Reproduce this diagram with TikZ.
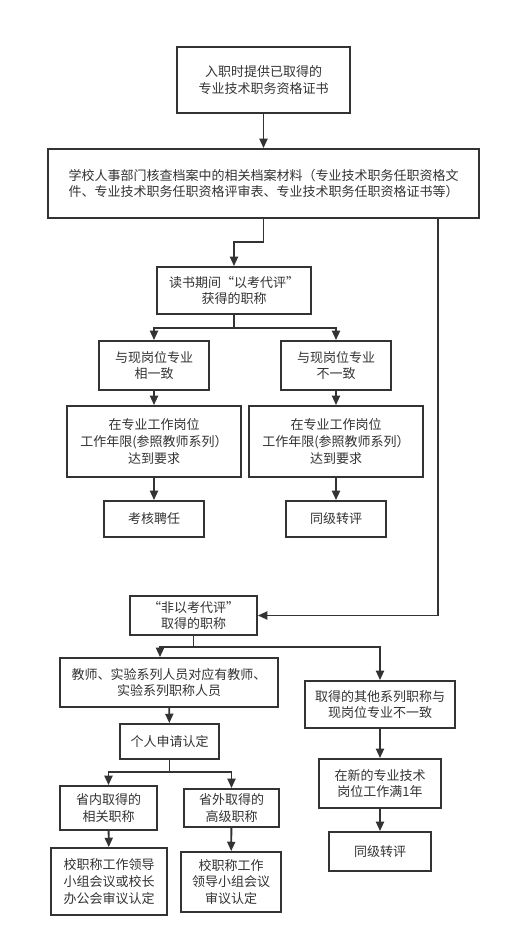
\documentclass[tikz,border=0pt]{standalone}
\usepackage{fontspec}
\newfontfamily\cjk{Noto Sans CJK SC}
\usetikzlibrary{arrows.meta}
\definecolor{ink}{HTML}{333333}
\begin{document}
\begin{tikzpicture}[x=0.75pt,y=-0.75pt,
  bx/.style 2 args={draw=ink,line width=1.4pt,fill=white,text=ink,inner sep=0pt,align=center,
    minimum width=#1*0.75pt,minimum height=#2*0.75pt,font=\cjk\fontsize{9.75}{12.6}\selectfont},
  ln/.style={draw=ink,line width=1.4pt},
  arr/.style={ln,-{Triangle[width=6pt,length=7pt]}}]
\useasboundingbox (0,0) rectangle (507,929);
\node[bx={173}{66}] (b1) at (263.5,80) {入职时提供已取得的\\专业技术职务资格证书};
\node[bx={431}{69}] (b2) at (263.5,183.5) {学校人事部门核查档案中的相关档案材料（专业技术职务任职资格文\\件、专业技术职务任职资格评审表、专业技术职务任职资格证书等）};
\node[bx={154}{47}] (b3) at (234,290.5) {读书期间“以考代评”\\获得的职称};
\node[bx={110}{49}] (b4l) at (154,365.5) {与现岗位专业\\相一致};
\node[bx={110}{49}] (b4r) at (336,365.5) {与现岗位专业\\不一致};
\node[bx={174}{71}] (b5l) at (154,441.5) {在专业工作岗位\\工作年限(参照教师系列）\\达到要求};
\node[bx={174}{71}] (b5r) at (336,441.5) {在专业工作岗位\\工作年限(参照教师系列）\\达到要求};
\node[bx={100}{36}] (b6l) at (154,519) {考核聘任};
\node[bx={100}{36}] (b6r) at (336,519) {同级转评};
\node[bx={127}{39}] (b7) at (193.5,615.5) {“非以考代评”\\取得的职称};
\node[bx={218}{49}] (b8) at (169,682.5) {教师、实验系列人员对应有教师、\\实验系列职称人员};
\node[bx={150}{47}] (b11) at (380,704.5) {取得的其他系列职称与\\现岗位专业不一致};
\node[bx={99}{35}] (b9) at (169.5,741.5) {个人申请认定};
\node[bx={97}{44}] (b10l) at (108.5,808) {省内取得的\\相关职称};
\node[bx={95}{38}] (b10r) at (231.5,808) {省外取得的\\高级职称};
\node[bx={116}{67}] (b12l) at (109,881.5) {校职称工作领导\\小组会议或校长\\办公会审议认定};
\node[bx={100}{60}] (b12r) at (231,882) {校职称工作\\领导小组会议\\审议认定};
\node[bx={122}{49}] (b13) at (380,783.5) {在新的专业技术\\岗位工作满1年};
\node[bx={102}{39}] (b14) at (380,851.5) {同级转评};
\coordinate (j1) at (234,242);
\coordinate (r1) at (438,0);
\coordinate (j2) at (234,328);
\coordinate (j3) at (193.5,647);
\coordinate (j4) at (169.5,772);
\draw[arr] (b1) -- (b2);
\draw[arr] (b2.south) |- (j1) -- (b3.north);
\draw[arr] (b2.south -| r1) |- (b7.east);
\draw[ln] (b3.south) -- (j2);
\draw[arr] (j2) -| (b4l.north);
\draw[arr] (j2) -| (b4r.north);
\draw[arr] (b4l) -- (b5l);
\draw[arr] (b4r) -- (b5r);
\draw[arr] (b5l) -- (b6l);
\draw[arr] (b5r) -- (b6r);
\draw[ln] (b7.south) -- (j3);
\draw[arr] (j3) -| ([xshift=-6.75pt]b8.north);
\draw[arr] (j3) -| (b11.north);
\draw[arr] (b8) -- (b9);
\draw[ln] (b9.south) -- (j4);
\draw[arr] (j4) -| (b10l.north);
\draw[arr] (j4) -| (b10r.north);
\draw[arr] (b10l) -- (b12l);
\draw[arr] (b10r) -- (b12r);
\draw[arr] (b11) -- (b13);
\draw[arr] (b13) -- (b14);
\end{tikzpicture}
\end{document}
